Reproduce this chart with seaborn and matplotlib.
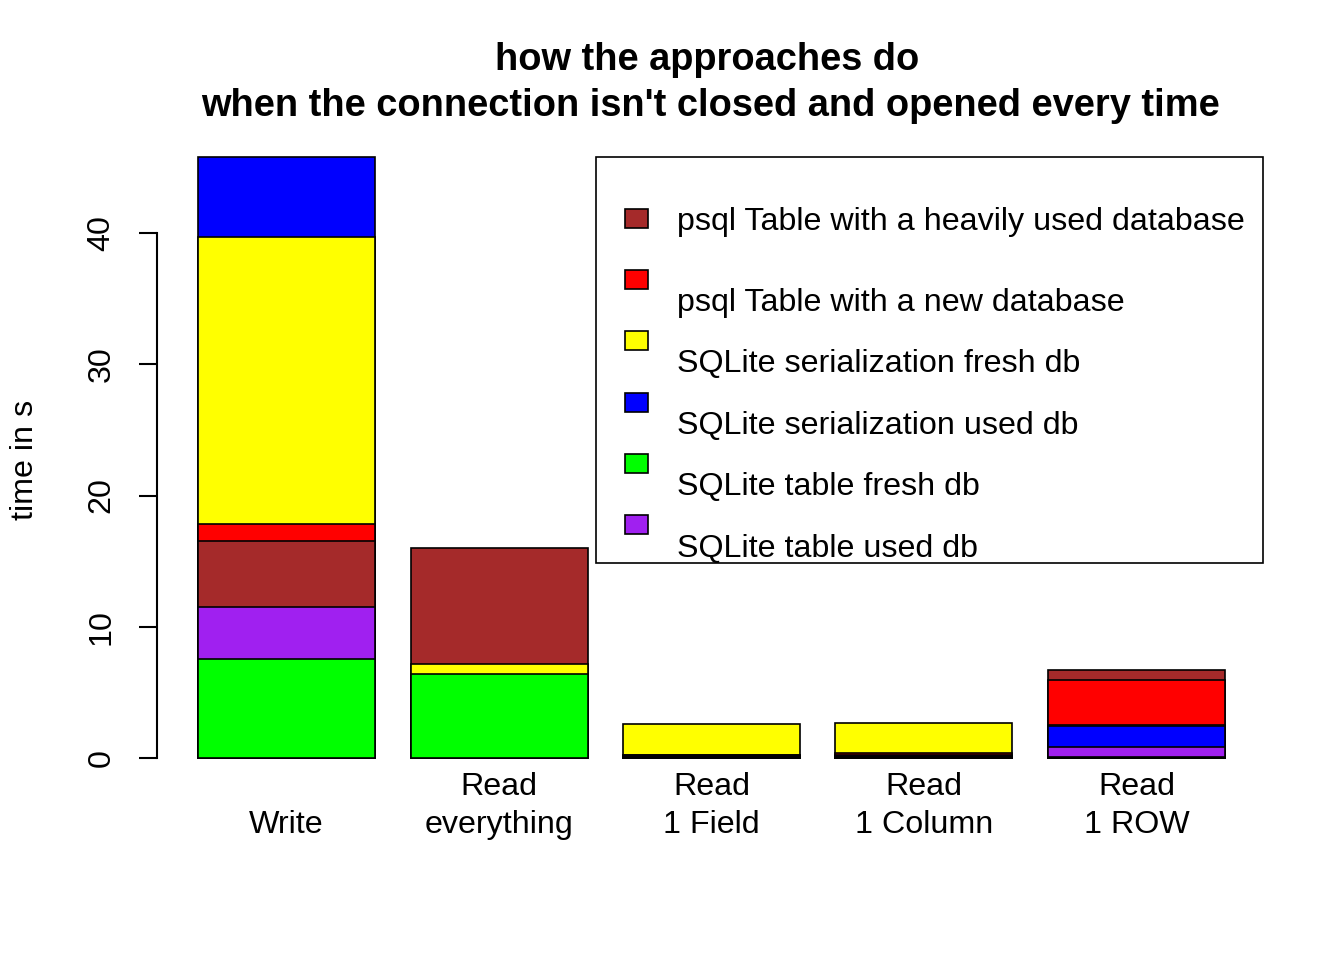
import numpy as np
import pandas as pd
import seaborn as sns
import matplotlib.pyplot as plt
from matplotlib.patches import Rectangle
from matplotlib import transforms

tests = ["Write", "Read\neverything", "Read\n1 Field", "Read\n1 Column", "Read\n1 ROW"]
methods = ["psql Table with a heavily used database",
           "psql Table with a new database",
           "SQLite serialization fresh db",
           "SQLite serialization used db",
           "SQLite table fresh db",
           "SQLite table used db"]
colors = ["#A52A2A", "#FF0000", "#FFFF00", "#0000FF", "#00FF00", "#A020F0"]

# time in s per method, one value per test (bars overlap, not stacked)
psql_heavy = [16.5, 16.0, 0.25, 0.15, 6.7]
psql_new = [17.8, np.nan, 0.15, 0.35, 5.95]
sqlite_ser_fresh = [39.7, 7.15, 2.6, 2.65, 2.5]
sqlite_ser_used = [45.8, np.nan, 0.2, 0.2, 2.45]
sqlite_tab_fresh = [7.55, 6.4, 0.1, 0.1, 0.1]
sqlite_tab_used = [11.5, np.nan, 0.05, 0.05, 0.8]

sns.set_style("white")
plt.rcParams['font.family'] = ['Liberation Sans', 'DejaVu Sans']
plt.rcParams['text.color'] = 'black'
plt.rcParams['ytick.color'] = 'black'
plt.rcParams['axes.labelcolor'] = 'black'

df = pd.DataFrame({
    "test": np.tile(tests, len(methods)),
    "method": np.repeat(methods, len(tests)),
    "time": np.concatenate([psql_heavy, psql_new, sqlite_ser_fresh,
                            sqlite_ser_used, sqlite_tab_fresh, sqlite_tab_used]),
})

W, H = 1344, 960
FS = 23.2
fig = plt.figure(figsize=(W / 100, H / 100), dpi=100)


def fx(px):
    return px / W


def fy(py):
    return 1 - py / H


ax = fig.add_axes([fx(157), fy(782), fx(1266) - fx(157), fy(133) - fy(782)])

sns.barplot(data=df.dropna(), x="test", y="time", hue="method", hue_order=methods,
            order=tests, palette=colors, dodge=False, width=1 / 1.2,
            edgecolor="black", linewidth=1.2, saturation=1, legend=False,
            errorbar=None, ax=ax)

# taller bars go behind shorter ones
for p in ax.patches:
    p.set_zorder(100 - p.get_height())

ax.set_xlim(-0.61, 4.61)
ax.set_ylim(-1.83, 47.63)
ax.set_xlabel("")
ax.set_ylabel("")

for s in ["top", "right", "bottom"]:
    ax.spines[s].set_visible(False)
ax.spines["left"].set_bounds(0, 40)
ax.spines["left"].set_linewidth(1.5)
ax.spines["left"].set_color("black")
ax.set_yticks([0, 10, 20, 30, 40])
ax.tick_params(axis="y", left=True, length=13, width=1.5, pad=16, labelsize=FS,
               labelrotation=90, color="black")
for lab in ax.get_yticklabels():
    lab.set_va("center")
ax.set_xticks([])

trans = transforms.blended_transform_factory(ax.transData, fig.transFigure)
for i, t in enumerate(tests):
    ax.text(i, fy(840), t, transform=trans, ha="center", va="bottom",
            fontsize=FS, linespacing=1.33)

fig.text(fx(25), fy(460), "time in s", rotation=90, ha="center", va="center",
         fontsize=FS)

fig.text(fx(707), fy(60), "how the approaches do", ha="center", va="center",
         fontsize=27.4, fontweight="bold")
fig.text(fx(710), fy(106), "when the connection isn't closed and opened every time",
         ha="center", va="center", fontsize=27.4, fontweight="bold")

# legend box drawn R-style
fig.patches.append(Rectangle((fx(596), fy(563)), fx(1263) - fx(596), fy(157) - fy(563),
                             transform=fig.transFigure, fill=False,
                             edgecolor="black", linewidth=1.2))
box_y = [219, 280, 341, 403, 464, 525]
text_y = [222, 303, 364, 426, 487, 549]
for m, c, by, ty in zip(methods, colors, box_y, text_y):
    fig.patches.append(Rectangle((fx(625), fy(by + 9)), fx(23), 19 / H,
                                 transform=fig.transFigure, facecolor=c,
                                 edgecolor="black", linewidth=1.2))
    fig.text(fx(677), fy(ty), m, ha="left", va="center", fontsize=FS)

fig.savefig("out.png", dpi=100)
